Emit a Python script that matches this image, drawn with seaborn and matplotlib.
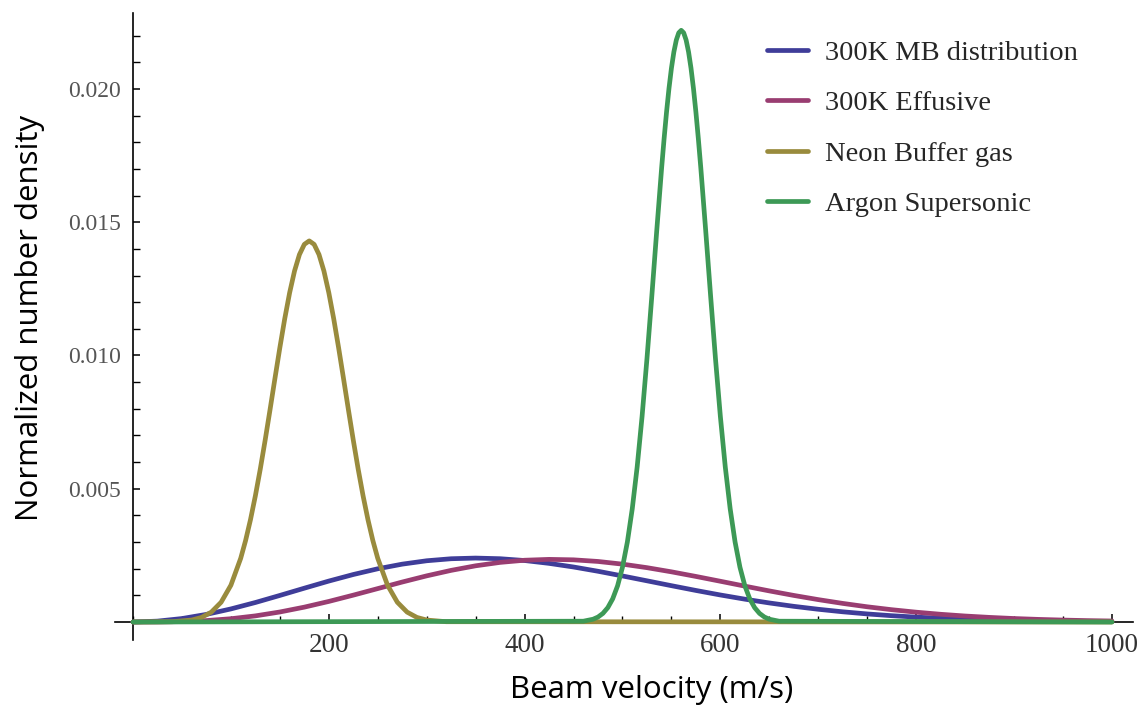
import matplotlib
matplotlib.use("Agg")
import matplotlib.pyplot as plt
import seaborn as sns
import pandas as pd
from matplotlib.ticker import MultipleLocator, FixedLocator

# ---------------- data ----------------
series_names = ["300K MB distribution", "300K Effusive", "Neon Buffer gas", "Argon Supersonic"]
series_colors = ["#3F3D99", "#993D71", "#998B3D", "#3D9956"]

mb_v = [0, 25, 50, 75, 100, 125, 150, 175, 200, 225, 250, 275, 300, 325, 350, 375, 400,
        425, 450, 475, 500, 525, 550, 575, 600, 625, 650, 675, 700, 725, 750, 775, 800,
        825, 850, 875, 900, 925, 950, 975, 1000]
mb_d = [0.0, 0.0000331, 0.000130, 0.000286, 0.000491, 0.000732, 0.000997, 0.001269,
        0.001536, 0.001782, 0.001997, 0.002171, 0.002298, 0.002374, 0.002399, 0.002375,
        0.002307, 0.002200, 0.002064, 0.001904, 0.001728, 0.001546, 0.001363, 0.001184,
        0.001014, 0.000857, 0.000715, 0.000588, 0.000478, 0.000383, 0.000303, 0.000237,
        0.000183, 0.000140, 0.000106, 0.0000787, 0.0000579, 0.0000422, 0.0000303,
        0.0000216, 0.0000152]

eff_v = mb_v
eff_d = [0.0, 0.0000021, 0.0000164, 0.0000539, 0.000123, 0.000230, 0.000376, 0.000558,
         0.000772, 0.001008, 0.001254, 0.001500, 0.001732, 0.001938, 0.002109, 0.002237,
         0.002318, 0.002350, 0.002333, 0.002272, 0.002171, 0.002039, 0.001883, 0.001710,
         0.001529, 0.001346, 0.001167, 0.000997, 0.000840, 0.000698, 0.000571, 0.000462,
         0.000369, 0.000290, 0.000225, 0.000173, 0.000131, 0.0000980, 0.0000724,
         0.0000528, 0.0000381]

neon_v = [0, 40, 60, 70, 80, 90, 100, 110, 115, 120, 125, 130, 135, 140, 145, 150, 155,
          160, 165, 170, 175, 180, 185, 190, 195, 200, 205, 210, 215, 220, 225, 230, 235,
          240, 245, 250, 260, 270, 280, 290, 300, 320, 1000]
neon_d = [0.0, 0.0000111, 0.0000743, 0.000172, 0.000371, 0.000742, 0.001381, 0.002389,
          0.003056, 0.003840, 0.004737, 0.005738, 0.006825, 0.007972, 0.009142, 0.010294,
          0.011382, 0.012356, 0.013172, 0.013787, 0.014170, 0.0143, 0.014170, 0.013787,
          0.013172, 0.012356, 0.011382, 0.010294, 0.009142, 0.007972, 0.006825, 0.005738,
          0.004737, 0.003840, 0.003056, 0.002389, 0.001381, 0.000742, 0.000371, 0.000172,
          0.0000743, 0.0000111, 0.0]

argon_v = [0, 460, 470, 475, 480, 485, 490, 495, 500, 505, 510, 515, 520, 525, 530, 535,
           540, 542.5, 545, 547.5, 550, 552.5, 555, 557.5, 560, 562.5, 565, 567.5, 570,
           572.5, 575, 577.5, 580, 585, 590, 595, 600, 605, 610, 615,
           620, 625, 630, 635, 640, 645, 650, 660, 1000]
argon_d = [0.0, 0.0000299, 0.000105, 0.000187, 0.000323, 0.000539, 0.000870, 0.001359,
           0.002055, 0.003004, 0.004251, 0.005819, 0.007708, 0.009877, 0.012244, 0.014686,
           0.017041, 0.018131, 0.019131, 0.020021, 0.020780, 0.021390, 0.021836, 0.022108,
           0.0222, 0.022108, 0.021836, 0.021390, 0.020780, 0.020021, 0.019131, 0.018131,
           0.017041, 0.014686, 0.012244, 0.009877, 0.007708, 0.005819, 0.004251, 0.003004,
           0.002055, 0.001359, 0.000870, 0.000539, 0.000323, 0.000187, 0.000105,
           0.0000299, 0.0]

x_tick_values = [200, 400, 600, 800, 1000]
y_tick_values = [0.005, 0.010, 0.015, 0.020]
y_tick_labels = ["0.005", "0.010", "0.015", "0.020"]
x_label = "Beam velocity (m/s)"
y_label = "Normalized number density"

# ---------------- build long-form table ----------------
frames = []
for name, vs, ds in zip(series_names, [mb_v, eff_v, neon_v, argon_v],
                        [mb_d, eff_d, neon_d, argon_d]):
    frames.append(pd.DataFrame({"v": vs, "density": ds, "series": name}))
df = pd.concat(frames, ignore_index=True)

sns.set_theme(style="white")
plt.rcParams["font.family"] = ["Liberation Serif", "DejaVu Serif"]

W, H = 1141, 711
fig = plt.figure(figsize=(W / 100, H / 100), dpi=100)
ax = fig.add_axes([115 / W, 1 - 640 / H, (1133 - 115) / W, (640 - 13) / H])

sns.lineplot(data=df, x="v", y="density", hue="series", hue_order=series_names,
             palette=dict(zip(series_names, series_colors)), estimator=None,
             linewidth=3.4, ax=ax, legend=True)
for ln in ax.get_lines():
    ln.set_solid_joinstyle("round")
    ln.set_solid_capstyle("round")

ax.set_xlim(-18.4, 1021.5)
ax.set_ylim(-0.000675, 0.02285)

for s in ["top", "right"]:
    ax.spines[s].set_visible(False)
ax.spines["left"].set_position(("data", 0))
ax.spines["bottom"].set_position(("data", 0))
for s in ["left", "bottom"]:
    ax.spines[s].set_color("black")
    ax.spines[s].set_linewidth(1.2)
    ax.spines[s].set_zorder(1)

ax.xaxis.set_major_locator(FixedLocator(x_tick_values))
ax.xaxis.set_minor_locator(MultipleLocator(50))
ax.yaxis.set_major_locator(FixedLocator(y_tick_values))
ax.yaxis.set_minor_locator(MultipleLocator(0.001))
ax.set_yticklabels(y_tick_labels)
ax.set_xticklabels([str(v) for v in x_tick_values])

ax.tick_params(axis="x", which="major", direction="in", length=6, width=1.1,
               color="black", labelsize=19.5, labelcolor="#333333", pad=8,
               bottom=True)
ax.tick_params(axis="x", which="minor", direction="in", length=4, width=1.0,
               color="black", bottom=True)
ax.tick_params(axis="y", which="major", direction="in", length=5, width=1.1,
               color="black", labelsize=17, labelcolor="#555555", pad=9,
               left=True)
ax.tick_params(axis="y", which="minor", direction="in", length=5, width=1.0,
               color="black", left=True)
ax.grid(False)

ax.set_xlabel(x_label, fontsize=22.5, family=["Open Sans", "DejaVu Sans"], color="black")
ax.set_ylabel(y_label, fontsize=22.5, family=["Open Sans", "DejaVu Sans"], color="black")
ax.xaxis.set_label_coords((652 - 115) / (1133 - 115), (640 - 690) / (640 - 13))
ax.yaxis.set_label_coords((30 - 115) / (1133 - 115), (640 - 318) / (640 - 13))
ax.xaxis.label.set_va("center")
ax.yaxis.label.set_va("center")

leg = ax.legend(loc="upper left", bbox_to_anchor=(767 / W, 1 - 40 / H),
                bbox_transform=fig.transFigure, frameon=False, fontsize=20.5,
                handlelength=1.44, handletextpad=0.6, labelspacing=0.86,
                borderpad=0, borderaxespad=0, title=None)
for line in leg.get_lines():
    line.set_linewidth(3.4)

fig.savefig("out.png", dpi=100)
